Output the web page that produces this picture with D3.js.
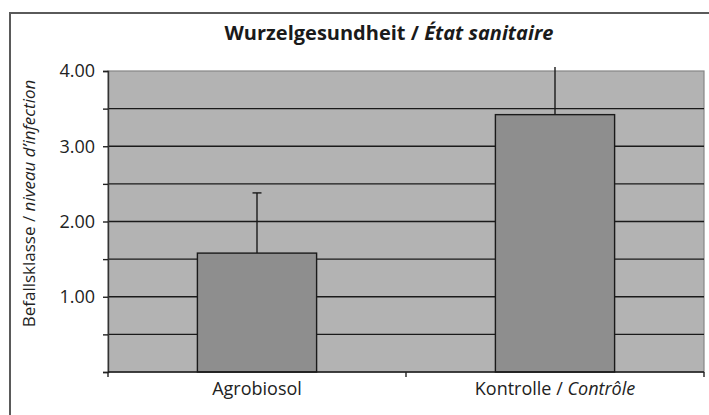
<!DOCTYPE html>
<html>
<head>
<meta charset="utf-8">
<script src="https://cdn.jsdelivr.net/npm/d3@7"></script>
<style>
  html, body { margin: 0; padding: 0; background: #fff; }
  svg { display: block; font-family: "Open Sans", "Noto Sans", sans-serif; }
</style>
</head>
<body>
<svg id="chart" width="709" height="415"></svg>
<script>
// ---- data ----
const categories = ["Agrobiosol", "Kontrolle"];
const categoryItalic = ["", "Contrôle"];
const values = [1.58, 3.42];
const errorsPlus = [0.80, 0.90];
const yTicks = [0, 0.5, 1, 1.5, 2, 2.5, 3, 3.5, 4];
const yTickLabels = ["", "", "1.00", "", "2.00", "", "3.00", "", "4.00"];

const svg = d3.select("#chart");
const W = 709, H = 415;
const plot = { left: 108, right: 704, top: 71, bottom: 372 };

// outer frame (cut at right/bottom)
svg.append("rect")
  .attr("x", 10).attr("y", 13)
  .attr("width", W + 10).attr("height", H + 10)
  .attr("fill", "none").attr("stroke", "#5a5a5a").attr("stroke-width", 2);

const x = d3.scaleBand().domain(categories)
  .range([plot.left, plot.right]).paddingInner(0.6).paddingOuter(0.3);
const xOuter = d3.scaleBand().domain(categories)
  .range([plot.left, plot.right]).padding(0);
const y = d3.scaleLinear().domain([0, 4]).range([plot.bottom, plot.top]);

// plot background
svg.append("rect")
  .attr("x", plot.left).attr("y", plot.top)
  .attr("width", plot.right - plot.left).attr("height", plot.bottom - plot.top)
  .attr("fill", "#b3b3b3").attr("stroke", "#858585").attr("stroke-width", 1.2);

// gridlines
svg.append("g").selectAll("line")
  .data(yTicks.filter(t => t > 0 && t < 4))
  .join("line")
  .attr("x1", plot.left).attr("x2", plot.right)
  .attr("y1", d => y(d)).attr("y2", d => y(d))
  .attr("stroke", "#1a1a1a").attr("stroke-width", 1.4);

// y axis
const yAxis = d3.axisLeft(y).tickValues(yTicks)
  .tickFormat((d, i) => yTickLabels[i]).tickSize(5).tickPadding(8);
const gy = svg.append("g").attr("transform", `translate(${plot.left},0)`).call(yAxis);
gy.select(".domain").attr("stroke", "#333").attr("stroke-width", 1.4);
gy.selectAll(".tick line").attr("stroke", "#222").attr("stroke-width", 1.4);
gy.selectAll(".tick text").attr("font-size", 18).attr("fill", "#222")
  .attr("font-family", "'Open Sans', sans-serif");

// error bars (plus only), clipped slightly above the plot
const clip = svg.append("defs").append("clipPath").attr("id", "ebclip");
clip.append("rect").attr("x", 0).attr("y", plot.top - 4)
  .attr("width", W).attr("height", H);

// bars
svg.append("g").selectAll("rect")
  .data(categories)
  .join("rect")
  .attr("x", d => x(d))
  .attr("width", x.bandwidth())
  .attr("y", (d, i) => y(values[i]))
  .attr("height", (d, i) => y(0) - y(values[i]))
  .attr("fill", "#8e8e8e").attr("stroke", "#1a1a1a").attr("stroke-width", 1.4);

const eb = svg.append("g").attr("clip-path", "url(#ebclip)");
categories.forEach((c, i) => {
  const cx = x(c) + x.bandwidth() / 2;
  const top = y(values[i] + errorsPlus[i]);
  eb.append("line").attr("x1", cx).attr("x2", cx)
    .attr("y1", y(values[i])).attr("y2", top)
    .attr("stroke", "#1a1a1a").attr("stroke-width", 1.4);
  eb.append("line").attr("x1", cx - 4.5).attr("x2", cx + 4.5)
    .attr("y1", top).attr("y2", top)
    .attr("stroke", "#1a1a1a").attr("stroke-width", 1.4);
});

// x axis
const gx = svg.append("g").attr("transform", `translate(0,${plot.bottom})`);
gx.append("line").attr("x1", plot.left).attr("x2", plot.right)
  .attr("y1", 0).attr("y2", 0).attr("stroke", "#1a1a1a").attr("stroke-width", 1.6);
const boundaries = [plot.left].concat(categories.map(c => xOuter(c) + xOuter.bandwidth()));
gx.selectAll("line.tk").data(boundaries).join("line").attr("class", "tk")
  .attr("x1", d => d).attr("x2", d => d).attr("y1", 0).attr("y2", 5)
  .attr("stroke", "#222").attr("stroke-width", 1.4);
const xl = gx.selectAll("text").data(categories).join("text")
  .attr("x", d => x(d) + x.bandwidth() / 2)
  .attr("y", 23)
  .attr("text-anchor", "middle")
  .attr("font-size", 18).attr("fill", "#222");
xl.each(function(d, i) {
  const t = d3.select(this);
  if (categoryItalic[i]) {
    t.append("tspan").text(d + " / ");
    t.append("tspan").attr("font-style", "italic").text(categoryItalic[i]);
  } else {
    t.text(d);
  }
});

// title
const title = svg.append("text")
  .attr("x", 389).attr("y", 40)
  .attr("text-anchor", "middle")
  .attr("font-size", 20).attr("font-weight", "bold").attr("fill", "#1a1a1a");
title.append("tspan").text("Wurzelgesundheit / ");
title.append("tspan").attr("font-style", "italic").text("État sanitaire");

// y axis label
const yl = svg.append("text")
  .attr("transform", `translate(35,${(plot.top + 336) / 2}) rotate(-90)`)
  .attr("text-anchor", "middle")
  .attr("font-size", 17).attr("fill", "#222");
yl.append("tspan").text("Befallsklasse / ");
yl.append("tspan").attr("font-style", "italic").text("niveau d’infection");
</script>
</body>
</html>
